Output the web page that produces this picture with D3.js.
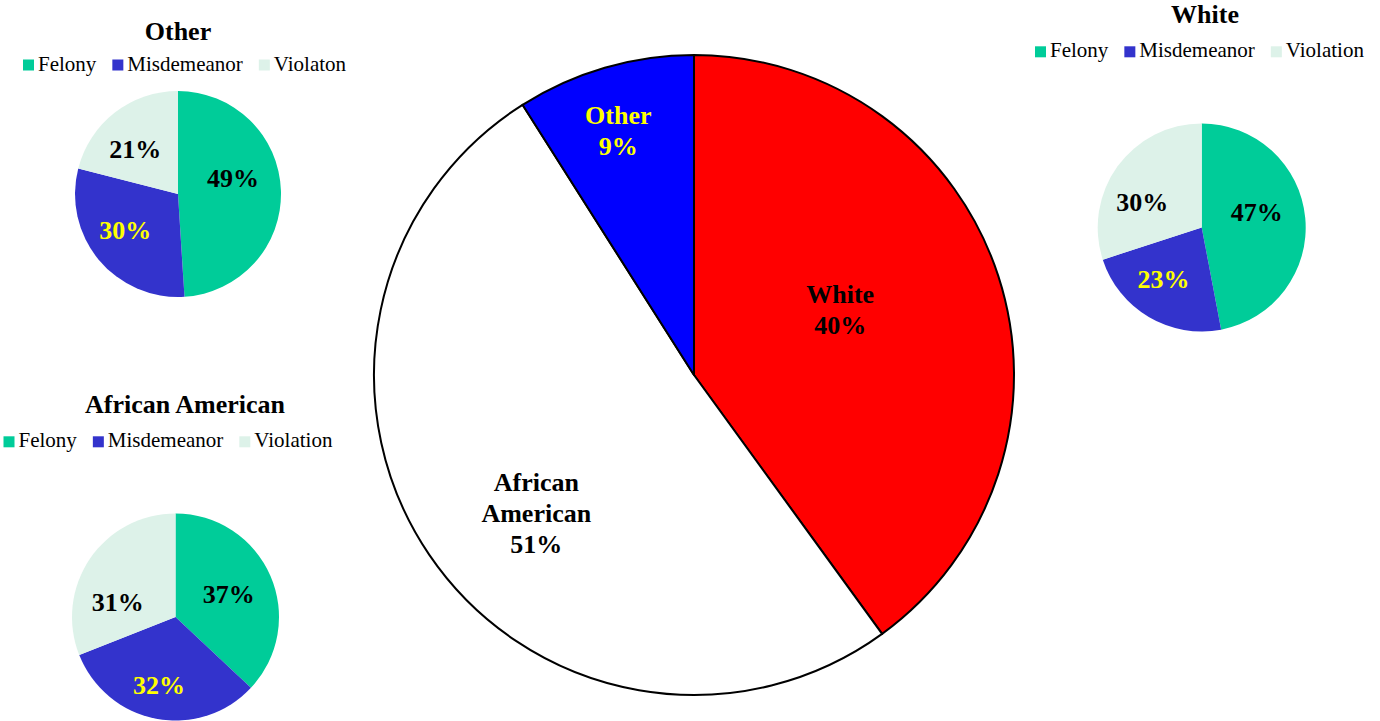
<!DOCTYPE html>
<html>
<head>
<meta charset="utf-8">
<script src="https://cdn.jsdelivr.net/npm/d3@7"></script>
<style>
  html, body { margin: 0; padding: 0; background: #fff; }
  svg { display: block; }
</style>
</head>
<body>
<svg id="chart" width="1380" height="721"></svg>
<script>
// ---------- DATA ----------
const mainCategories = ["White", "African American", "Other"];
const mainLabelLines = [["White"], ["African", "American"], ["Other"]];
const mainValues = [40, 51, 9];

const crimeTypes = ["Felony", "Misdemeanor", "Violation"];
const otherLegendLabels = ["Felony", "Misdemeanor", "Violaton"];
const otherValues = [49, 30, 21];
const whiteValues = [47, 23, 30];
const africanAmericanValues = [37, 32, 31];

// ---------- STYLE / LAYOUT ----------
const FONT = "Liberation Serif";
const mainColors = ["#FF0000", "#FFFFFF", "#0000FF"];
const mainTextColors = ["#000000", "#000000", "#FFFF00"];
const crimeColors = ["#00CC99", "#3333CC", "#DDF2E9"];
const crimeTextColors = ["#000000", "#FFFF00", "#000000"];

const svg = d3.select("#chart").attr("font-family", FONT);
const pie = d3.pie().sort(null).value(d => d);

function labelPoint(d, R, k, daDeg) {
  const a = (d.startAngle + d.endAngle) / 2 + daDeg * Math.PI / 180;
  return [R * k * Math.sin(a), -R * k * Math.cos(a)];
}

// ---------- MAIN PIE ----------
const main = { cx: 694, cy: 375, r: 320,
  place: [{ k: 0.5, da: -6 }, { k: 0.655, da: -7 }, { k: 0.8, da: -1 }] };
const mainG = svg.append("g").attr("transform", `translate(${main.cx},${main.cy})`);
const mainArcs = pie(mainValues);
const mainArc = d3.arc().innerRadius(0).outerRadius(main.r);
mainG.selectAll("path").data(mainArcs).join("path")
  .attr("d", mainArc)
  .attr("fill", (d, i) => mainColors[i])
  .attr("stroke", "#000")
  .attr("stroke-width", 2)
  .attr("stroke-linejoin", "round");

mainArcs.forEach((d, i) => {
  const p = main.place[i];
  const [x, y] = labelPoint(d, main.r, p.k, p.da);
  const lines = mainLabelLines[i].concat([`${mainValues[i]}%`]);
  const lh = 31;
  const t = mainG.append("text")
    .attr("font-family", FONT)
    .attr("text-anchor", "middle")
    .attr("font-weight", "bold")
    .attr("font-size", 26)
    .attr("fill", mainTextColors[i]);
  lines.forEach((ln, j) => {
    t.append("tspan")
      .attr("x", x)
      .attr("y", y - (lines.length - 1) * lh / 2 + j * lh + 8.8)
      .text(ln);
  });
});

// ---------- SMALL PIES ----------
function smallPie(cfg) {
  const g = svg.append("g");
  g.append("text")
    .attr("font-family", FONT)
    .attr("x", cfg.titleX).attr("y", cfg.titleY)
    .attr("text-anchor", "middle")
    .attr("font-weight", "bold")
    .attr("font-size", 26)
    .text(cfg.title);

  // legend
  let lx = cfg.legendX;
  cfg.legendLabels.forEach((lab, i) => {
    g.append("rect")
      .attr("x", lx).attr("y", cfg.legendY - 11)
      .attr("width", 11).attr("height", 11)
      .attr("fill", crimeColors[i]);
    const t = g.append("text")
      .attr("font-family", FONT)
      .attr("x", lx + 15).attr("y", cfg.legendY)
      .attr("font-size", 21)
      .attr("fill", "#000")
      .text(lab);
    lx += 15 + t.node().getComputedTextLength() + 16;
  });

  const pg = g.append("g").attr("transform", `translate(${cfg.cx},${cfg.cy})`);
  const arcs = pie(cfg.values);
  const arc = d3.arc().innerRadius(0).outerRadius(cfg.r);
  pg.selectAll("path").data(arcs).join("path")
    .attr("d", arc)
    .attr("fill", (d, i) => crimeColors[i]);
  arcs.forEach((d, i) => {
    const p = cfg.place[i];
    const [x, y] = labelPoint(d, cfg.r, p.k, p.da);
    pg.append("text")
      .attr("font-family", FONT)
      .attr("x", x).attr("y", y + 8.8)
      .attr("text-anchor", "middle")
      .attr("font-weight", "bold")
      .attr("font-size", 26)
      .attr("fill", crimeTextColors[i])
      .text(`${cfg.values[i]}%`);
  });
}

smallPie({
  title: "Other", titleX: 178, titleY: 40,
  legendLabels: otherLegendLabels, legendX: 23, legendY: 70.5,
  values: otherValues, cx: 178, cy: 194, r: 103,
  place: [{ k: 0.556, da: -14.4 }, { k: 0.62, da: 5.4 }, { k: 0.6, da: -5.9 }]
});

smallPie({
  title: "White", titleX: 1205, titleY: 23,
  legendLabels: crimeTypes, legendX: 1035, legendY: 57.3,
  values: whiteValues, cx: 1201.7, cy: 227.5, r: 104,
  place: [{ k: 0.55, da: -10 }, { k: 0.62, da: 5.8 }, { k: 0.62, da: -13.3 }]
});

smallPie({
  title: "African American", titleX: 185, titleY: 413,
  legendLabels: crimeTypes, legendX: 3.5, legendY: 447.3,
  values: africanAmericanValues, cx: 175.5, cy: 617, r: 103.5,
  place: [{ k: 0.56, da: 0 }, { k: 0.68, da: 2.8 }, { k: 0.576, da: -19.6 }]
});
</script>
</body>
</html>
